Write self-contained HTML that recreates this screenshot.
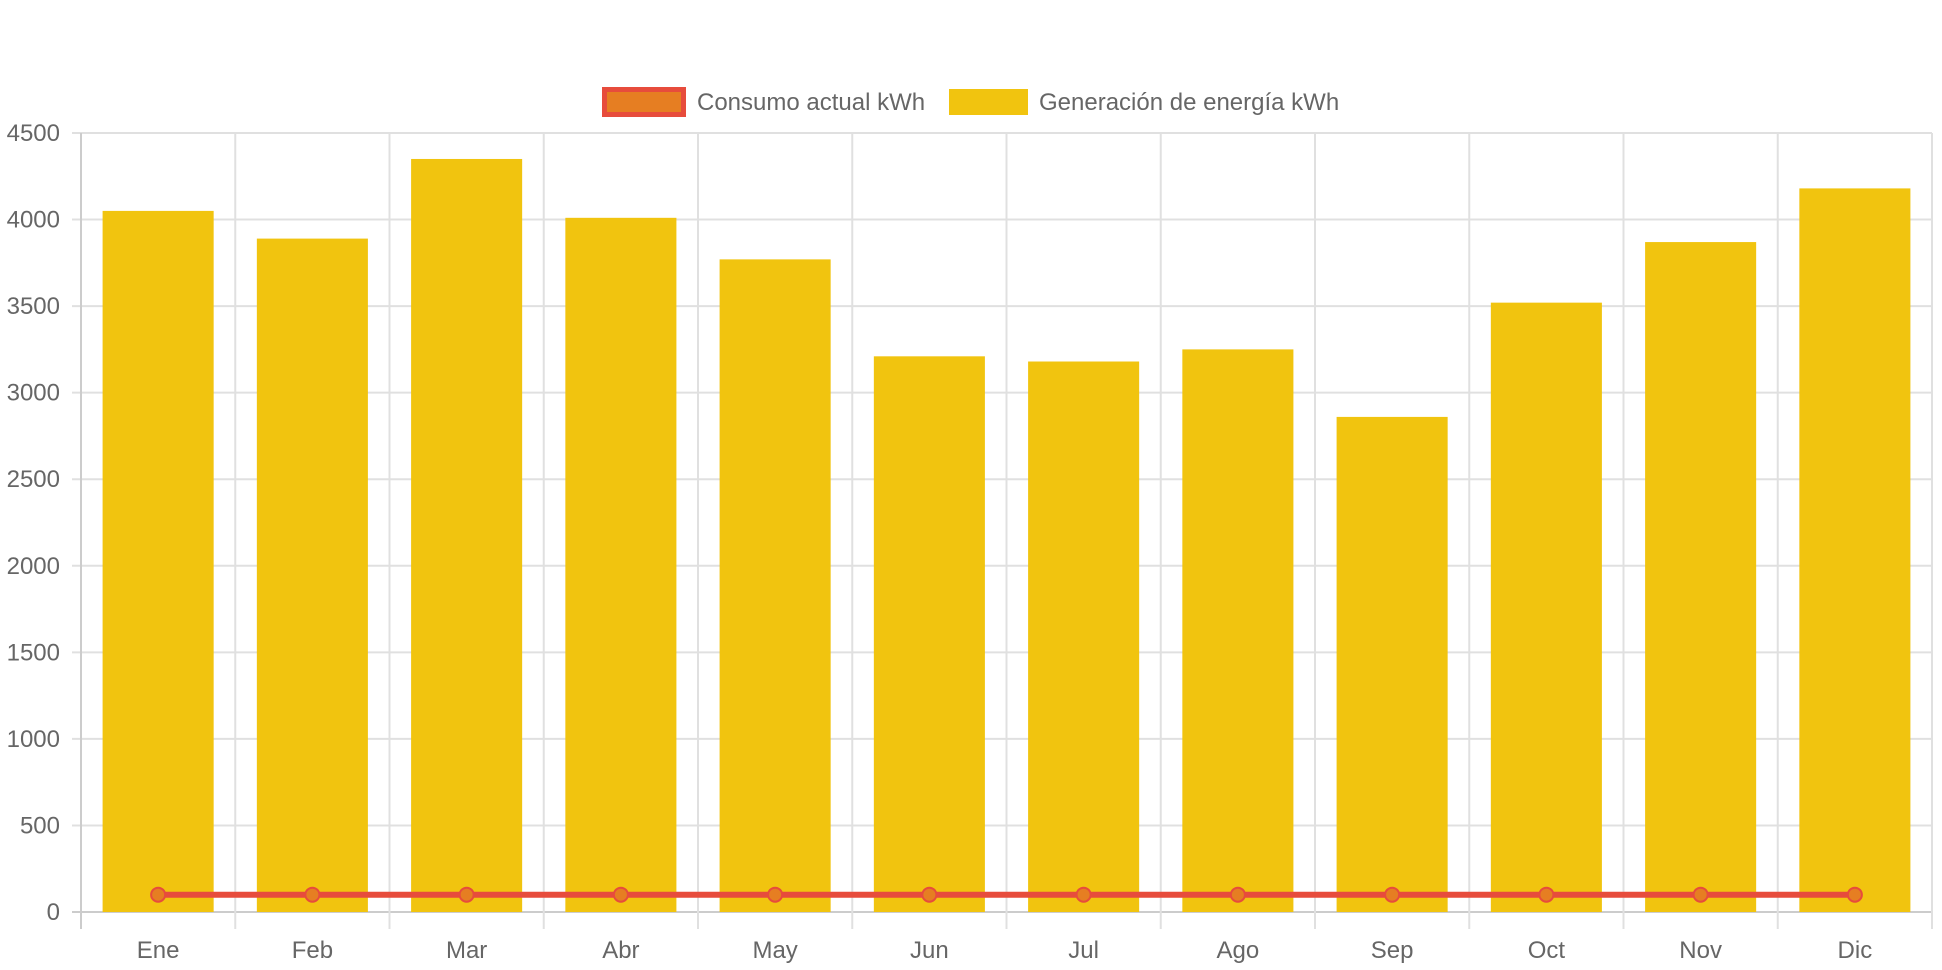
<!DOCTYPE html>
<html><head><meta charset="utf-8">
<style>
html,body{margin:0;padding:0;background:#fff;}
svg{display:block;font-family:"Liberation Sans",sans-serif;}
</style></head>
<body>
<svg id="chart" width="1942" height="970">
  <g>
    <g>
      <rect x="604.5" y="89.5" width="79" height="25" fill="#e67e22" stroke="#e74c3c" stroke-width="5"/>
      <text x="697" y="110" font-size="24" fill="#666">Consumo actual kWh</text>
    </g>
    <g>
      <rect x="949" y="89" width="79" height="26" fill="#f1c40f"/>
      <text x="1039" y="110" font-size="24" fill="#666">Generación de energía kWh</text>
    </g>
  </g>
  <g id="grid"></g>
  <g id="bars"></g>
  <g id="line"></g>
  <g id="yaxis"></g>
  <g id="xaxis"></g>
</svg>
<script>
const categories = ["Ene","Feb","Mar","Abr","May","Jun","Jul","Ago","Sep","Oct","Nov","Dic"];
const generacion = [4050,3890,4350,4010,3770,3210,3180,3250,2860,3520,3870,4180];
const consumo = [100,100,100,100,100,100,100,100,100,100,100,100];
const yTicks = [0,500,1000,1500,2000,2500,3000,3500,4000,4500];

const NS="http://www.w3.org/2000/svg";
const L=81,R=1932,T=133,B=912,yMax=4500;
const colW=(R-L)/categories.length;
const x=i=>L+colW*(i+0.5);
const y=v=>B-(v/yMax)*(B-T);
function mk(tag,attrs,parent){const e=document.createElementNS(NS,tag);for(const k in attrs)e.setAttribute(k,attrs[k]);parent.appendChild(e);return e;}
const grid=document.getElementById('grid'),bars=document.getElementById('bars'),line=document.getElementById('line'),ya=document.getElementById('yaxis'),xa=document.getElementById('xaxis');

yTicks.forEach(t=>{
  const yy=y(t);
  const g=mk('line',{x1:L-9,x2:R,y1:yy,y2:yy,stroke:t===0?'#ccc':'#e0e0e0','stroke-width':2},grid);
  
  
  const tx=mk('text',{x:L-21,y:yy+8,'text-anchor':'end','font-size':24,fill:'#666'},ya);
  tx.textContent=t;
  
  
});
for(let i=0;i<=categories.length;i++){
  const xx=L+colW*i;
  const g=mk('line',{x1:xx,x2:xx,y1:T,y2:B+17,stroke:i===0?'#ccc':'#e0e0e0','stroke-width':2},grid);
  
  
}
const bw=colW*0.72;
generacion.forEach((v,i)=>{
  const r=mk('rect',{x:x(i)-bw/2,y:y(v),width:bw,height:B-y(v),fill:'#f1c40f'},bars);
  
  
});
categories.forEach((c,i)=>{
  const tx=mk('text',{x:x(i),y:958,'text-anchor':'middle','font-size':24,fill:'#666'},xa);
  tx.textContent=c;
  
  
});
const pts=consumo.map((v,i)=>x(i)+','+y(v)).join(' ');
const pl=mk('polyline',{points:pts,fill:'none',stroke:'#e74c3c','stroke-width':6},line);


consumo.forEach((v,i)=>{
  const c=mk('circle',{cx:x(i),cy:y(v),r:7,fill:'#e67e22',stroke:'#e74c3c','stroke-width':2},line);
  
  
});
</script>
</body></html>
